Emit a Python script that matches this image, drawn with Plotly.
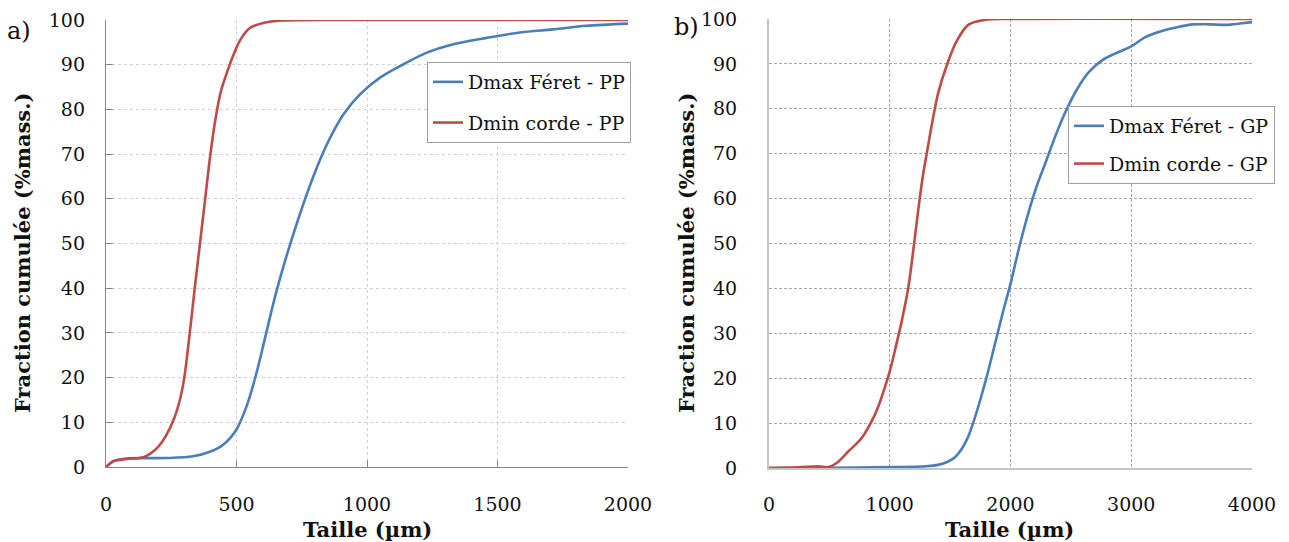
import plotly.graph_objects as go

# ---- Data ----
pp_feret_x = [0, 28, 79, 232, 334, 398, 449, 500, 538, 575, 610, 645, 683, 720, 756, 790, 825, 862,
              910, 974, 1050, 1140, 1229, 1331, 1458, 1586, 1713, 1841, 2000]
pp_feret_y = [0, 1.3, 1.9, 2.0, 2.4, 3.4, 5.0, 8.4, 13.5, 20.7, 29.0, 37.5, 45.5, 52.5, 58.8, 64.3, 69.4, 74.0,
              78.9, 83.4, 87.1, 90.1, 92.7, 94.6, 96.0, 97.2, 97.9, 98.7, 99.2]

pp_corde_x = [0, 28, 79, 143, 170, 200, 230, 262, 285, 300, 320, 340, 360, 380, 400, 420, 440, 462,
              487, 513, 551, 615, 691, 900, 2000]
pp_corde_y = [0, 1.3, 1.8, 2.2, 3.0, 4.5, 7.0, 11.0, 15.5, 20.0, 29.5, 40.0, 50.0, 60.0, 70.0, 78.0, 84.0, 88.0,
              92.0, 95.4, 98.2, 99.5, 99.9, 100, 100]

gp_feret_x = [0, 500, 1000, 1300, 1400, 1480, 1540, 1600, 1650, 1700, 1750, 1800, 1870, 1940, 2000, 2075,
              2150, 2220, 2290, 2370, 2450, 2550, 2650, 2770, 2900, 3000, 3120, 3240, 3370, 3510, 3650,
              3790, 3900, 4000]
gp_feret_y = [0, 0.05, 0.2, 0.4, 0.7, 1.4, 2.4, 4.4, 7.0, 10.8, 15.2, 20.0, 27.5, 35.0, 41.0, 49.5,
              57.0, 63.0, 68.0, 73.8, 79.0, 84.3, 88.2, 91.0, 92.7, 93.9, 96.0, 97.2, 98.1, 98.8, 98.8,
              98.7, 99.0, 99.3]

gp_corde_x = [0, 243, 408, 491, 560, 657, 767, 877, 920, 960, 1000, 1043, 1098, 1153, 1195, 1236, 1277,
              1319, 1360, 1402, 1471, 1553, 1650, 1788, 2000, 4000]
gp_corde_y = [0, 0.15, 0.4, 0.2, 1.1, 3.7, 6.7, 11.9, 14.8, 18.0, 21.5, 26.2, 32.6, 40.1, 48.5, 57.5, 65.5,
              72.0, 78.2, 83.6, 89.6, 95.0, 98.7, 99.8, 100, 100]

names_pp = ["Dmax Féret - PP", "Dmin corde - PP"]
names_gp = ["Dmax Féret - GP", "Dmin corde - GP"]
x_ticks_pp = [0, 500, 1000, 1500, 2000]
x_ticks_gp = [0, 1000, 2000, 3000, 4000]
y_ticks = list(range(0, 101, 10))

BLUE = "#4a7ebb"
RED = "#be4b48"
FONT = "DejaVu Serif"
W, H = 1289, 542

fig = go.Figure()
line_kw = dict(width=2.6, shape="spline", smoothing=0.9)
fig.add_trace(go.Scatter(x=pp_feret_x, y=pp_feret_y, name=names_pp[0], mode="lines",
                         line=dict(color=BLUE, **line_kw),
                         xaxis="x", yaxis="y", legend="legend", legendgroup="a1"))
fig.add_trace(go.Scatter(x=pp_corde_x, y=pp_corde_y, name=names_pp[1], mode="lines",
                         line=dict(color=RED, **line_kw),
                         xaxis="x", yaxis="y", legend="legend", legendgroup="a2"))
fig.add_trace(go.Scatter(x=gp_feret_x, y=gp_feret_y, name=names_gp[0], mode="lines",
                         line=dict(color=BLUE, **line_kw),
                         xaxis="x2", yaxis="y2", legend="legend2", legendgroup="b1"))
fig.add_trace(go.Scatter(x=gp_corde_x, y=gp_corde_y, name=names_gp[1], mode="lines",
                         line=dict(color=RED, **line_kw),
                         xaxis="x2", yaxis="y2", legend="legend2", legendgroup="b2"))

tickfont = dict(family=FONT, size=19, color="#111111")

ax_left = dict(showline=True, linecolor="#868686", linewidth=1.3, ticks="inside", ticklen=7,
               tickcolor="#868686", showgrid=True, gridcolor="#d2d2d2", griddash="dot", gridwidth=1,
               zeroline=False, tickfont=tickfont, fixedrange=True, automargin=False)
ax_right = dict(showline=True, linecolor="#c4c4c4", linewidth=2, ticks="", showgrid=True,
                gridcolor="#a8a8a8", griddash="3px,2px", gridwidth=1, zeroline=False,
                tickfont=tickfont, fixedrange=True, automargin=False)

fig.update_layout(
    template="none",
    width=W, height=H,
    margin=dict(l=0, r=0, t=0, b=0, autoexpand=False),
    paper_bgcolor="white", plot_bgcolor="white",
    xaxis=dict(domain=[106 / W, 628 / W], range=[0, 2000], tickvals=x_ticks_pp, anchor="y",
               ticklabelstandoff=20, **ax_left),
    yaxis=dict(domain=[75 / H, 522 / H], range=[0, 100], tickvals=y_ticks, anchor="x",
               ticklabelstandoff=16, **ax_left),
    xaxis2=dict(domain=[769 / W, 1252 / W], range=[0, 4000], tickvals=x_ticks_gp, anchor="y2",
                ticklabelstandoff=18, **ax_right),
    yaxis2=dict(domain=[74 / H, 523 / H], range=[0, 100], tickvals=y_ticks, anchor="x2",
                ticklabelstandoff=26, **ax_right),
    legend=dict(x=427 / W, y=1 - 62 / H, xanchor="left", yanchor="top", bgcolor="white",
                bordercolor="#a0a0a0", borderwidth=1, font=dict(family=FONT, size=19, color="#111111"),
                tracegroupgap=13, itemwidth=30),
    legend2=dict(x=1068 / W, y=1 - 106 / H, xanchor="left", yanchor="top", bgcolor="white",
                 bordercolor="#a0a0a0", borderwidth=1, font=dict(family=FONT, size=19, color="#111111"),
                 tracegroupgap=10, itemwidth=30),
    showlegend=True,
)

title_font = dict(family=FONT, size=21, color="#111111", weight="bold")
annos = [
    dict(text="Fraction cumulée (%mass.)", x=22 / W, y=1 - 253 / H, textangle=-90, font=title_font),
    dict(text="Fraction cumulée (%mass.)", x=686 / W, y=1 - 253 / H, textangle=-90, font=title_font),
    dict(text="Taille (µm)", x=367 / W, y=1 - 529 / H, font=title_font),
    dict(text="Taille (µm)", x=1010 / W, y=1 - 529 / H, font=title_font),
    dict(text="a)", x=19 / W, y=1 - 31 / H, font=dict(family=FONT, size=24, color="#111111")),
    dict(text="b)", x=686 / W, y=1 - 27 / H, font=dict(family=FONT, size=24, color="#111111")),
]
for a in annos:
    fig.add_annotation(xref="paper", yref="paper", showarrow=False, xanchor="center", yanchor="middle", **a)

fig.write_html("out.html", config={"displayModeBar": False},
               post_script="document.body.style.margin='0';document.body.style.overflow='hidden';")
